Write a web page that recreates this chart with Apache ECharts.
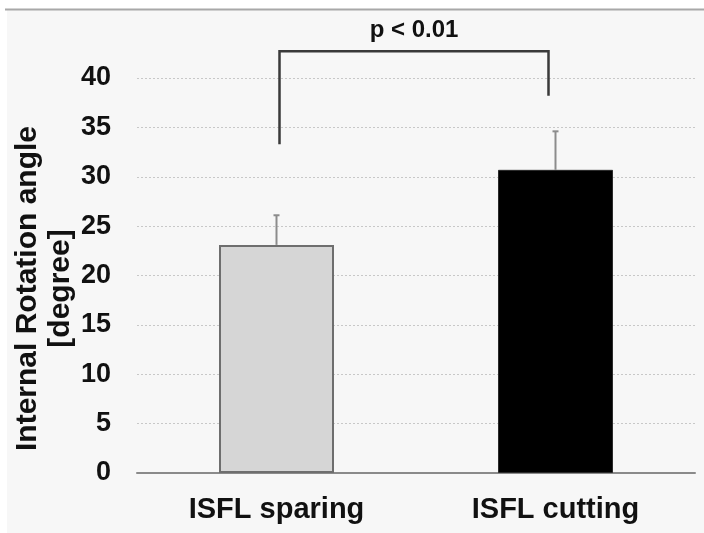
<!DOCTYPE html>
<html>
<head>
<meta charset="utf-8">
<script src="https://cdn.jsdelivr.net/npm/echarts@6/dist/echarts.min.js"></script>
<style>
html,body{margin:0;padding:0;background:#fff;}
#chart{width:704px;height:533px;}
</style>
</head>
<body>
<div id="chart"></div>
<script>
const categories = ['ISFL sparing', 'ISFL cutting'];
const meanValues = [23.1, 30.7];
const sdValues = [3.0, 3.9];
const yTicks = [0, 5, 10, 15, 20, 25, 30, 35, 40];
const bracketLeftBottom = 33.3;
const bracketTop = 42.7;
const bracketRightBottom = 38.2;
const pLabel = 'p < 0.01';

const chart = echarts.init(document.getElementById('chart'));
const font = '"Liberation Sans", Arial, sans-serif';

const option = {
  animation: false,
  backgroundColor: '#ffffff',
  graphic: [
    { type: 'rect', z: -10, shape: { x: 7, y: 10, width: 697, height: 523 }, style: { fill: '#f7f7f7' } },
    { type: 'line', z: -9, shape: { x1: 5, y1: 9.5, x2: 704, y2: 9.5 }, style: { stroke: '#a8a8a8', lineWidth: 2 } }
  ],
  grid: { left: 137, right: 9, top: 78, bottom: 60, containLabel: false, outerBoundsMode: 'none' },
  xAxis: {
    type: 'category',
    data: categories,
    axisLine: { lineStyle: { color: '#8a8a8a', width: 2 } },
    axisTick: { show: false },
    axisLabel: { color: '#111', fontFamily: font, fontWeight: 'bold', fontSize: 29, margin: 22 }
  },
  yAxis: {
    type: 'value',
    min: yTicks[0],
    max: yTicks[yTicks.length - 1],
    interval: yTicks[1] - yTicks[0],
    name: 'Internal Rotation angle\n[degree]',
    nameLocation: 'middle',
    nameRotate: 90,
    nameGap: 60,
    nameMoveOverlap: false,
    nameTextStyle: { color: '#111', fontFamily: font, fontWeight: 'bold', fontSize: 30, lineHeight: 33, padding: [0, 26, 0, 0] },
    axisLine: { show: false },
    axisTick: { show: false },
    splitLine: { lineStyle: { color: '#c8c8c8', type: [2, 2], width: 1 } },
    axisLabel: { color: '#111', fontFamily: font, fontWeight: 'bold', fontSize: 27, margin: 26 }
  },
  series: [
    {
      type: 'bar',
      barWidth: 115,
      data: meanValues.map((v, i) => ({
        value: v,
        itemStyle: i === 0
          ? { color: '#d6d6d6', borderColor: '#6e6e6e', borderWidth: 2 }
          : { color: '#000000', borderColor: '#2a2a2a', borderWidth: 1 }
      })),
      z: 2
    },
    {
      type: 'custom',
      z: 3,
      data: meanValues.map((v, i) => [i, v, v + sdValues[i]]),
      renderItem: function (params, api) {
        const base = api.coord([api.value(0), api.value(1)]);
        const top = api.coord([api.value(0), api.value(2)]);
        return {
          type: 'group',
          children: [
            { type: 'line', shape: { x1: base[0], y1: base[1], x2: top[0], y2: top[1] }, style: { stroke: '#8c8c8c', lineWidth: 2 } },
            { type: 'line', shape: { x1: top[0] - 3, y1: top[1], x2: top[0] + 3, y2: top[1] }, style: { stroke: '#8c8c8c', lineWidth: 2 } }
          ]
        };
      }
    },
    {
      type: 'custom',
      z: 4,
      clip: false,
      data: [[0, 1, bracketLeftBottom, bracketTop, bracketRightBottom]],
      renderItem: function (params, api) {
        const l0 = api.coord([api.value(0), api.value(2)]);
        const lt = api.coord([api.value(0), api.value(3)]);
        const rt = api.coord([api.value(1), api.value(3)]);
        const r0 = api.coord([api.value(1), api.value(4)]);
        const lx = l0[0] + 3, rx = r0[0] - 7;
        return {
          type: 'group',
          children: [
            { type: 'polyline', shape: { points: [[lx, l0[1]], [lx, lt[1]], [rx, rt[1]], [rx, r0[1]]] }, style: { stroke: '#3a3a3a', lineWidth: 2.5, fill: null } },
            { type: 'text', style: { text: pLabel, x: (lx + rx) / 2, y: lt[1] - 21, textAlign: 'center', textVerticalAlign: 'middle', fill: '#111', font: 'bold 24px ' + font } }
          ]
        };
      }
    }
  ]
};
chart.setOption(option);
</script>
</body>
</html>
